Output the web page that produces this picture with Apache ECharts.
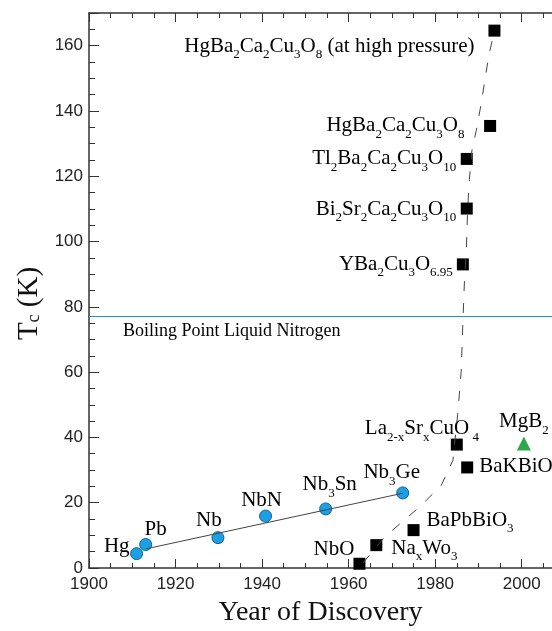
<!DOCTYPE html>
<html><head><meta charset="utf-8">
<script src="https://cdn.jsdelivr.net/npm/echarts@6/dist/echarts.min.js"></script>
<style>html,body{margin:0;padding:0;background:#fff}#c{width:552px;height:631px}</style>
</head><body><div id="c"></div>
<script>
// ---- data ----
const elemNames = ['Hg', 'Pb', 'Nb', 'NbN', 'Nb{s|3}Sn', 'Nb{s|3}Ge'];
const elemYears = [1911.0, 1913.1, 1929.8, 1940.8, 1954.7, 1972.5];
const elemTc = [4.4, 7.2, 9.3, 15.9, 18.1, 23.0];

const compNames = ['NbO', 'Na{s|x}Wo{s|3}', 'BaPbBiO{s|3}', 'La{s|2-x}Sr{s|x}CuO{s| 4}', 'BaKBiO',
  'YBa{s|2}Cu{s|3}O{s|6.95}', 'Bi{s|2}Sr{s|2}Ca{s|2}Cu{s|3}O{s|10}', 'Tl{s|2}Ba{s|2}Ca{s|2}Cu{s|3}O{s|10}',
  'HgBa{s|2}Ca{s|2}Cu{s|3}O{s|8}', 'HgBa{s|2}Ca{s|2}Cu{s|3}O{s|8} (at high pressure)'];
const compYears = [1962.5, 1966.4, 1975.0, 1985.0, 1987.4, 1986.4, 1987.3, 1987.3, 1992.7, 1993.7];
const compTc = [1.3, 7.0, 11.6, 37.8, 30.8, 93.0, 110.1, 125.3, 135.4, 164.6];

const mgNames = ['MgB{s|2}'];
const mgYears = [2000.5];
const mgTc = [38.1];

const fitYears = [1913.3, 1972.5];
const fitTc = [5.9, 22.9];

const trendYears = [1963.3, 1968.3, 1976.4, 1981.4, 1984.1, 1985.2, 1986.0, 1986.4, 1986.8, 1987.2, 1987.5, 1987.9, 1988.5, 1989.5, 1990.6, 1992.4, 1993.7];
const trendTc = [1.5, 9.5, 18.7, 25.3, 33.0, 47.0, 60.0, 75.0, 89.0, 97.0, 110.0, 119.0, 128.0, 134.0, 142.0, 157.0, 164.6];

const nitrogenBoilK = 77;
const nitrogenText = 'Boiling Point Liquid Nitrogen';

const xTickLabels = [1900, 1920, 1940, 1960, 1980, 2000];
const yTickLabels = [0, 20, 40, 60, 80, 100, 120, 140, 160];

// ---- label placement (styling, not data) ----
const elemLabelPos = [
  ['right', -7, -7], ['center', 10, -15], ['center', -9, -17], ['center', -4, -16], ['center', 4, -24], ['center', -11, -20]
];
const compLabelPos = [
  ['right', -5, -14], ['left', 15, 3], ['left', 13, -10], ['left', -92, -16], ['left', 12, -1],
  ['right', -10, 0], ['right', -10.6, 1], ['right', -10.6, 0], ['right', -25.7, 0], ['right', -20, 15.6]
];
const mgLabelPos = [['center', 0, -22]];

const SERIF = "'Liberation Serif','Times New Roman',serif";
const SANS = "'Liberation Sans',Arial,sans-serif";
const rich = {
  s: { fontFamily: SERIF, fontSize: 13, color: '#000', verticalAlign: 'bottom' }
};
const baseLabel = { show: true, position: 'inside', fontFamily: SERIF, fontSize: 21, lineHeight: 30, color: '#000', verticalAlign: 'middle', rich: rich };

function pts(xs, ys, names, pos) {
  return xs.map((x, i) => ({
    value: [x, ys[i]],
    label: Object.assign({}, baseLabel, { formatter: names[i], align: pos[i][0], offset: [pos[i][1], pos[i][2]] })
  }));
}
function line(xs, ys) { return xs.map((x, i) => [x, ys[i]]); }

const axisColor = '#333';
const xBase = { type: 'value', min: 1900, max: 2007, splitLine: { show: false } };
const yBase = { type: 'value', min: 0, max: 170, splitLine: { show: false } };

const chart = echarts.init(document.getElementById('c'), null, { renderer: 'canvas' });
chart.setOption({
  animation: false,
  backgroundColor: '#fff',
  grid: { left: 89, right: 0, top: 13, bottom: 63, containLabel: false, outerBoundsMode: 'none' },
  xAxis: [
    Object.assign({}, xBase, {
      position: 'bottom', interval: 20,
      axisLine: { show: true, lineStyle: { color: axisColor, width: 1.5 } },
      axisTick: { show: true, inside: true, length: 9, lineStyle: { color: axisColor } },
      axisLabel: { show: true, margin: 8, fontFamily: SANS, fontSize: 17, color: '#222',
        formatter: v => xTickLabels.indexOf(v) >= 0 ? String(v) : '' },
      name: 'Year of Discovery', nameLocation: 'middle', nameGap: 31,
      nameTextStyle: { fontFamily: SERIF, fontSize: 28, color: '#111' }
    }),
    Object.assign({}, xBase, {
      position: 'bottom', interval: 5,
      axisLine: { show: false }, axisLabel: { show: false },
      axisTick: { show: true, inside: true, length: 5, lineStyle: { color: axisColor } }
    }),
    Object.assign({}, xBase, {
      position: 'top', interval: 20,
      axisLine: { show: true, lineStyle: { color: axisColor, width: 1.5 } }, axisLabel: { show: false },
      axisTick: { show: true, inside: true, length: 9, lineStyle: { color: axisColor } }
    }),
    Object.assign({}, xBase, {
      position: 'top', interval: 5,
      axisLine: { show: false }, axisLabel: { show: false },
      axisTick: { show: true, inside: true, length: 5, lineStyle: { color: axisColor } }
    })
  ],
  yAxis: [
    Object.assign({}, yBase, {
      position: 'left', interval: 20,
      axisLine: { show: true, lineStyle: { color: axisColor, width: 1.5 } },
      axisTick: { show: true, inside: true, length: 10, lineStyle: { color: axisColor } },
      axisLabel: { show: true, margin: 6, fontFamily: SANS, fontSize: 17, color: '#222',
        formatter: v => yTickLabels.indexOf(v) >= 0 ? String(v) : '' },
      name: 'T{c|c} (K)', nameLocation: 'middle', nameRotate: 90, nameGap: 45,
      nameTextStyle: { fontFamily: SERIF, fontSize: 29, color: '#111', padding: [0, 26, 0, 0],
        rich: { c: { fontFamily: SERIF, fontSize: 18, color: '#111', verticalAlign: 'bottom' } } }
    }),
    Object.assign({}, yBase, {
      position: 'left', interval: 5,
      axisLine: { show: false }, axisLabel: { show: false },
      axisTick: { show: true, inside: true, length: 6, lineStyle: { color: axisColor } }
    })
  ],
  series: [
    {
      type: 'line', data: line(fitYears, fitTc), symbol: 'none', silent: true,
      lineStyle: { color: '#444', width: 1 },
      markLine: {
        silent: true, symbol: 'none', animation: false,
        data: [{ yAxis: nitrogenBoilK }],
        lineStyle: { color: '#1e8fd6', width: 1, type: 'solid' },
        label: { show: true, position: 'insideStartBottom', formatter: nitrogenText, distance: [34, 6],
          fontFamily: SERIF, fontSize: 18, color: '#000' }
      }
    },
    {
      type: 'line', data: line(trendYears, trendTc), symbol: 'none', silent: true,
      lineStyle: { color: '#444', width: 1, type: [10, 12] }
    },
    {
      type: 'scatter', data: pts(elemYears, elemTc, elemNames, elemLabelPos),
      symbol: 'circle', symbolSize: 12,
      itemStyle: { color: '#1aa0e3', borderColor: '#10609a', borderWidth: 1, opacity: 1 }
    },
    {
      type: 'scatter', data: pts(compYears, compTc, compNames, compLabelPos),
      symbol: 'rect', symbolSize: 12,
      itemStyle: { color: '#000', opacity: 1 }
    },
    {
      type: 'scatter', data: pts(mgYears, mgTc, mgNames, mgLabelPos),
      symbol: 'triangle', symbolSize: 14,
      itemStyle: { color: '#2aa84a', opacity: 1 }
    }
  ]
});
</script></body></html>
